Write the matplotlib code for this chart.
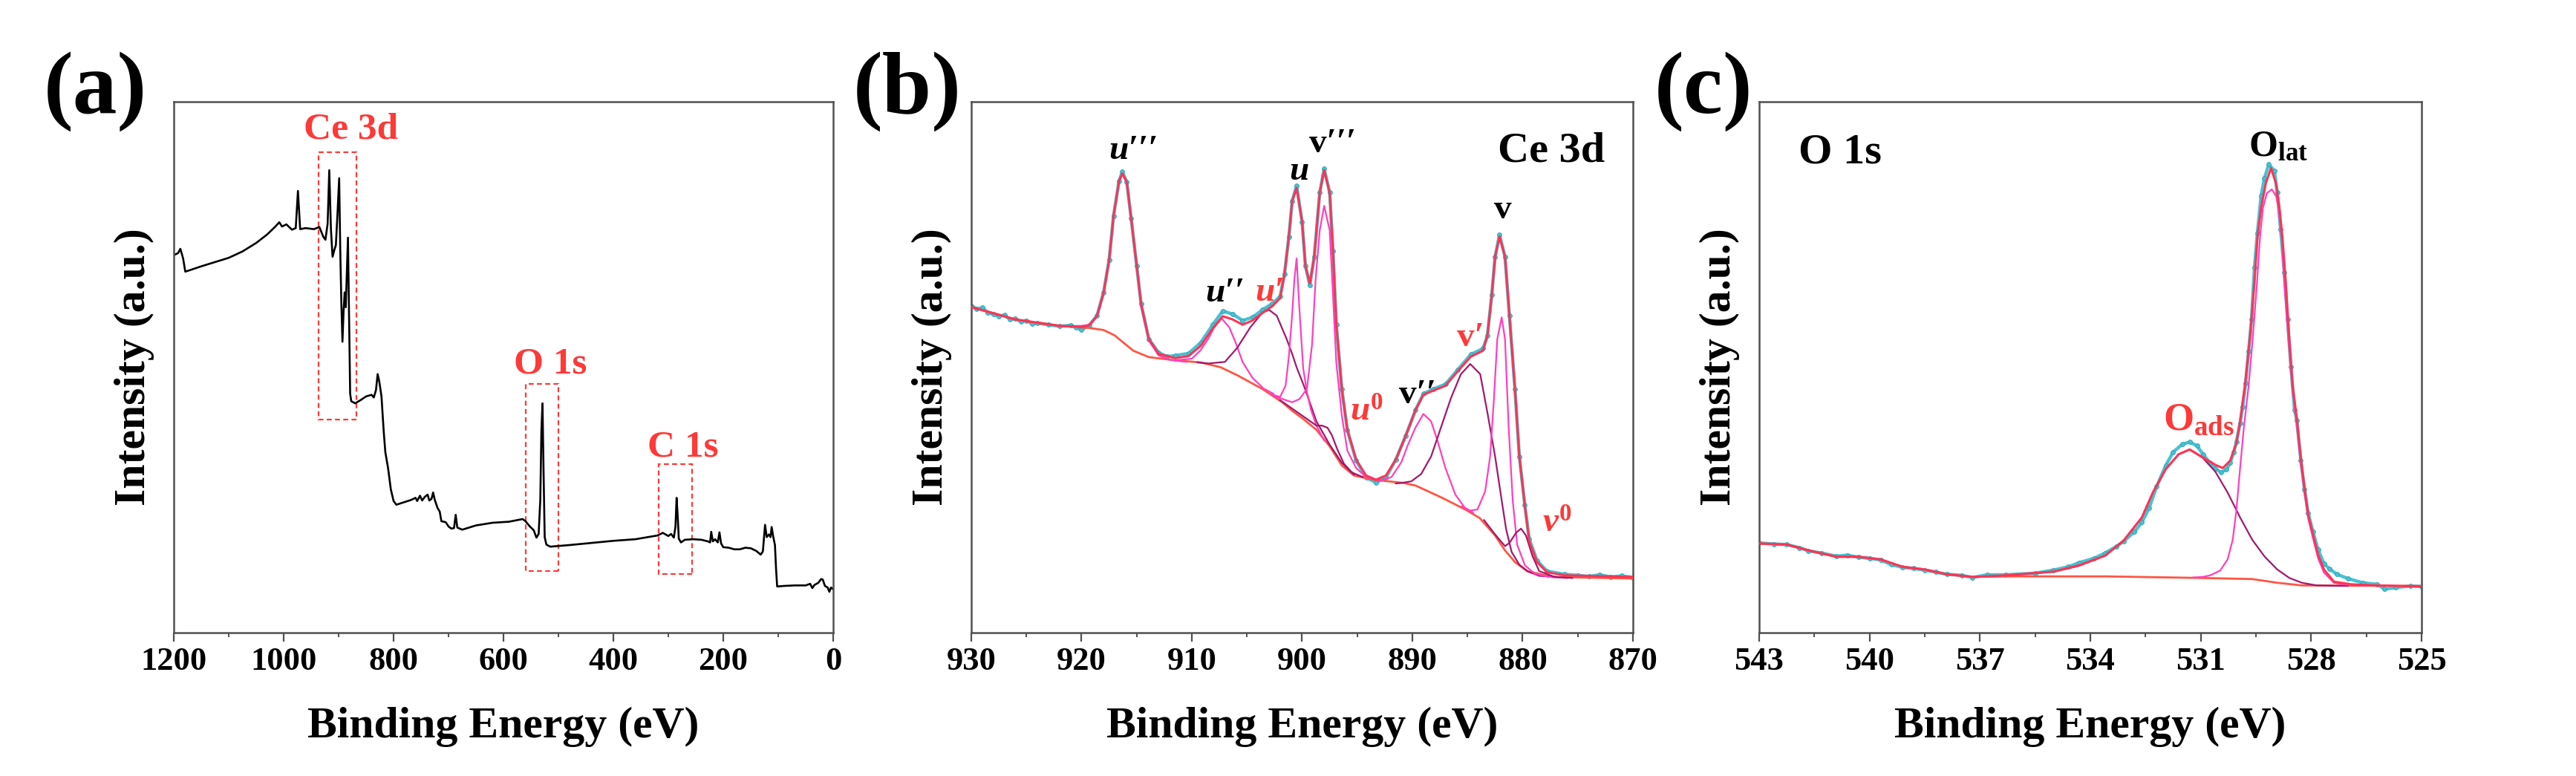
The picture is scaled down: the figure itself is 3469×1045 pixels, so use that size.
import matplotlib
matplotlib.use('Agg')
import matplotlib.pyplot as plt
from matplotlib.patches import Rectangle
from matplotlib.ticker import MultipleLocator

plt.rcParams['font.family'] = ['Liberation Serif', 'DejaVu Serif']
plt.rcParams['font.weight'] = 'bold'
plt.rcParams['mathtext.fontset'] = 'custom'
plt.rcParams['mathtext.rm'] = 'Liberation Serif:bold'
plt.rcParams['mathtext.it'] = 'Liberation Serif:italic:bold'
plt.rcParams['mathtext.bf'] = 'Liberation Serif:bold'

# ---------------- (a) survey spectrum ----------------
survey_be = [1200, 1192, 1188, 1183, 1179, 1170, 1150, 1125, 1100, 1075, 1050, 1030, 1015, 1008,
             1003, 995, 985, 978, 974, 970, 960, 945, 935, 928, 924, 920, 917, 914, 911, 908,
             905, 902, 899, 897, 895, 893, 891, 889, 887, 885, 883, 881, 879, 877, 870, 860,
             850, 840, 836, 832, 829, 826, 822, 818, 815, 810, 805, 800, 795, 780, 768, 760,
             757, 752, 748, 743, 738, 735, 731, 728, 725, 720, 716, 713, 705, 700, 695, 690,
             687, 684, 675, 650, 620, 590, 565, 560, 552, 545, 540, 536, 533, 531, 529, 527,
             525, 522, 515, 480, 440, 400, 360, 320, 310, 300, 295, 290, 287, 285, 283, 281,
             277, 270, 255, 240, 228, 224, 222, 219, 215, 210, 207, 204, 200, 190, 180, 170,
             160, 150, 140, 132, 128, 124, 121, 117, 114, 112, 109, 106, 104, 102, 90, 70,
             50, 42, 38, 34, 27, 22, 19, 15, 10, 7, 4, 0]
survey_int = [71.1, 71.5, 72.3, 70.5, 68.0, 68.3, 69.0, 69.8, 70.6, 71.8, 73.4, 75.0, 76.5, 77.3,
              76.5, 76.9, 75.9, 76.2, 83.2, 76.0, 76.2, 76.0, 76.4, 74.6, 74.0, 77.0, 87.1, 76.0,
              70.8, 72.0, 73.0, 79.0, 85.6, 72.0, 62.0, 54.8, 60.5, 64.1, 61.3, 68.0, 74.4, 60.0,
              45.0, 43.6, 43.2, 43.8, 44.5, 44.8, 44.3, 45.7, 48.7, 47.3, 44.5, 38.0, 34.0, 31.0,
              27.0, 24.8, 24.1, 24.6, 25.0, 25.4, 24.8, 25.8, 24.9, 25.6, 26.0, 24.9, 25.2, 26.4,
              25.0, 23.5, 22.8, 21.0, 20.8, 20.0, 19.6, 19.7, 22.2, 19.8, 19.4, 20.2, 20.7, 20.9,
              21.4, 21.0, 20.0, 19.3, 17.9, 18.6, 25.0, 38.0, 43.2, 30.0, 18.0, 16.6, 16.2, 16.5,
              16.9, 17.3, 17.6, 18.3, 18.8, 18.2, 18.6, 17.9, 20.0, 25.4, 22.0, 17.7, 17.0, 17.5,
              17.6, 17.5, 17.2, 17.0, 19.0, 17.2, 17.6, 17.0, 18.9, 16.8, 16.1, 16.0, 15.7, 15.7,
              16.0, 15.9, 15.4, 14.7, 15.3, 20.3, 18.0, 18.5, 18.0, 19.9, 18.0, 16.5, 12.0, 8.7,
              8.8, 8.9, 8.9, 9.2, 8.4, 9.0, 9.4, 10.1, 10.0, 8.8, 8.5, 7.7, 8.5, 8.2]
survey_labels = ['Ce 3d', 'O 1s', 'C 1s']
survey_label_xy = [(877, 94.7), (514, 50.6), (274, 34.9)]
survey_boxes = [(867, 937, 40.1, 90.5), (500, 559, 11.6, 46.9), (257, 317, 11.0, 31.7)]

# ---------------- (b) Ce 3d ----------------
ce_raw_be = [930, 929.5, 929, 928.5, 928, 927.5, 927, 926.5, 926, 925.5, 925, 924.5, 924, 923,
             922, 921, 920.5, 920, 919.3, 918.6, 918.0, 917.5, 917.1, 916.6, 916.3, 915.9,
             915.5, 915.0, 914.6, 913.9, 913.0, 912.2, 911.5, 910.3, 909.2, 908.1, 907.2,
             906.3, 905.4, 904.5, 903.6, 902.7, 902.0, 901.6, 901.2, 900.9, 900.5, 900.0,
             899.7, 899.3, 898.9, 898.4, 898.0, 897.5, 897.2, 896.9, 896.4, 895.9, 895.1,
             894.2, 893.3, 892.4, 891.5, 890.6, 889.7, 889.0, 888.1, 887.0, 885.9, 884.7,
             883.6, 883.2, 882.8, 882.5, 882.1, 881.6, 881.2, 880.7, 880.3, 879.8, 879.4,
             878.7, 877.8, 876.2, 875, 874, 873, 872, 871, 870]
ce_raw_int = [61.6, 61.0, 61.2, 60.3, 60.0, 59.6, 59.8, 59.0, 59.1, 58.6, 58.8, 58.2, 58.3, 58.0,
              57.7, 57.9, 57.5, 57.0, 57.9, 59.7, 64.1, 70.2, 78.5, 85.1, 86.8, 84.9,
              78.0, 69.1, 61.9, 55.3, 52.7, 52.0, 52.2, 52.6, 54.6, 58.0, 60.6, 60.0, 58.8, 59.4,
              60.8, 62.0, 63.3, 67.5, 74.6, 81.3, 84.2, 77.4, 69.1, 65.4, 70.8, 82.9, 87.4, 82.9,
              71.9, 58.1, 45.9, 38.2, 32.4, 29.2, 28.3, 29.2, 32.6, 37.1, 42.0, 45.0, 45.9, 46.8,
              49.5, 52.4, 53.5, 55.9, 63.6, 70.8, 75.0, 70.8, 59.7, 45.9, 33.2, 24.0, 17.6, 13.6,
              11.6, 11.0, 10.8, 10.6, 10.9, 10.5, 10.7, 10.4]
ce_env_be = [930, 926, 922, 920, 919.3, 918.6, 918.0, 917.5, 917.1, 916.6, 916.3, 915.9, 915.5,
             915.0, 914.6, 913.9, 913.0, 911.5, 910.3, 909.2, 908.1, 907.2, 906.3, 905.4, 904.5,
             903.6, 902.7, 902.0, 901.6, 901.2, 900.9, 900.5, 900.0, 899.7, 899.3, 898.9, 898.4,
             898.0, 897.5, 897.2, 896.9, 896.4, 895.9, 895.1, 894.2, 893.3, 892.4, 891.5, 890.6,
             889.7, 889.0, 888.1, 887.0, 885.9, 884.7, 883.6, 883.2, 882.8, 882.5, 882.1, 881.6,
             881.2, 880.7, 880.3, 879.8, 879.4, 878.7, 877.8, 876.2, 870]
ce_env_int = [61.3, 59.0, 57.8, 57.6, 57.9, 59.7, 64.1, 70.2, 78.5, 85.1, 86.5, 84.9, 78.0,
              69.1, 61.9, 55.3, 52.5, 51.7, 52.1, 54.0, 57.3, 59.6, 59.0, 58.0, 58.8,
              60.2, 61.5, 63.0, 67.5, 74.6, 81.3, 83.8, 77.4, 69.1, 65.8, 70.8, 82.9,
              87.1, 82.9, 71.9, 58.1, 45.9, 38.2, 32.6, 29.6, 28.8, 29.6, 32.6, 37.1,
              42.0, 44.8, 45.6, 46.5, 49.2, 52.0, 53.1, 55.9, 63.6, 70.8, 74.6, 70.8,
              59.7, 45.9, 33.2, 23.8, 17.2, 13.3, 11.4, 10.8, 10.5]
ce_bg_be = [930, 928, 926, 924, 922, 920, 919.3, 918, 917, 916.6, 915.3, 913.9, 911.5, 909.2,
            907.4, 905.8, 903.6, 901.8, 900.9, 899.8, 898.7, 897.5, 896.4, 895.3, 893.5, 890.8,
            889.7, 887.4, 885.2, 883.9, 882.5, 881.6, 880.7, 879.6, 877.3, 870]
ce_bg_int = [61.3, 60.2, 59.0, 58.3, 57.8, 57.5, 57.4, 57.0, 56.0, 55.3, 53.1, 51.9, 51.3, 50.9,
             50.0, 48.4, 45.9, 43.4, 41.8, 40.1, 38.2, 35.1, 31.5, 29.6, 28.8, 28.2,
             27.7, 25.5, 23.2, 21.6, 18.3, 15.5, 13.3, 11.6, 10.5, 10.2]

# Ce 3d components: (binding energies, intensities)
u3_be = [922, 920, 919.3, 918.6, 918.0, 917.5, 917.1, 916.6, 916.3, 915.9, 915.5, 915.0, 914.6,
         913.9, 913.0, 912.0, 910.5]
u3_int = [57.7, 57.8, 58.0, 59.5, 63.8, 70.0, 78.3, 85.0, 86.4, 84.8, 77.8, 68.8, 61.5,
          55.0, 52.2, 51.4, 51.0]
u2_be = [911.5, 910.0, 909.2, 908.5, 908.0, 907.3, 906.6, 906.0, 905.4, 904.5, 903.5, 902.6]
u2_int = [51.3, 51.6, 53.2, 55.4, 57.4, 59.2, 57.5, 54.5, 51.0, 48.0, 46.0, 45.0]
u1_be = [909.5, 908.5, 907.0, 905.9, 904.7, 903.6, 903.0, 902.3, 901.4, 900.9, 900.5, 899.8,
         898.7, 897.5, 896.4, 895.3]
u1_int = [50.9, 50.7, 51.0, 53.6, 57.5, 60.3, 60.8, 59.7, 55.3, 52.5, 50.0, 46.3,
          39.8, 35.4, 32.0, 29.8]
u_be = [902.8, 902.0, 901.5, 901.2, 900.9, 900.7, 900.5, 900.24, 899.9, 899.56, 899.2, 898.7, 898.0]
u_int = [44.9, 44.4, 46.5, 52.0, 60.0, 66.5, 70.5, 60.8, 49.8, 45.3, 42.0, 39.0, 36.2]
u0_be = [902.0, 900.9, 899.8, 898.7, 898.2, 897.7, 897.3, 896.8, 896.2, 895.5, 894.5]
u0_int = [43.8, 42.2, 40.6, 39.0, 39.0, 38.6, 37.2, 34.5, 31.8, 30.2, 29.3]
v3_be = [902.5, 900.9, 900.24, 899.56, 899.1, 898.78, 898.4, 898.0, 897.5, 897.2, 896.9, 896.4,
         895.9, 895.1, 894.2, 893.3]
v3_int = [44.5, 43.4, 44.0, 45.9, 54.2, 66.4, 75.8, 80.4, 75.8, 63.6, 50.9, 40.9,
          34.3, 31.0, 29.3, 28.8]
v2_be = [893.1, 891.9, 891.0, 890.4, 889.7, 889.0, 888.3, 887.7, 887.0, 886.1, 885.2, 884.5]
v2_int = [28.5, 29.3, 32.1, 35.4, 38.7, 41.2, 39.8, 36.0, 31.0, 26.0, 23.4, 22.6]
v1_be = [891.5, 891.0, 890.1, 889.2, 888.3, 887.4, 886.5, 885.6, 884.75, 883.85, 883.2, 882.5,
         881.9, 881.5, 881.0, 880.3, 879.5, 878.5, 877.0]
v1_int = [28.1, 28.2, 28.5, 29.9, 33.2, 38.7, 44.2, 48.7, 50.6, 48.7, 41.5, 33.2,
          24.9, 19.5, 15.2, 12.8, 11.5, 10.7, 10.5]
v_be = [885.5, 884.75, 884.1, 883.4, 882.95, 882.6, 882.3, 881.9, 881.6, 881.27, 880.9, 880.5,
        879.8, 878.9, 877.6, 876.0]
v_int = [23.8, 23.0, 23.2, 26.6, 33.2, 44.2, 55.3, 59.4, 55.3, 38.7, 24.9, 16.6,
         12.7, 11.1, 10.5, 10.3]
v0_be = [883.5, 882.5, 881.6, 881.2, 880.6, 880.15, 879.7, 879.1, 878.5, 877.1, 875.5]
v0_int = [21.2, 18.5, 16.3, 16.9, 18.8, 19.6, 18.3, 14.4, 11.6, 10.5, 10.3]

ce_comp = [(u3_be, u3_int, 'pink'), (u2_be, u2_int, 'pink'), (u1_be, u1_int, 'dark'),
           (u_be, u_int, 'pink'), (u0_be, u0_int, 'dark'), (v3_be, v3_int, 'pink'),
           (v2_be, v2_int, 'pink'), (v1_be, v1_int, 'dark'), (v_be, v_int, 'pink'),
           (v0_be, v0_int, 'dark')]

ce_labels = ["u\u2032\u2032\u2032", "u\u2032\u2032", "u\u2032", "u", r"$u^{0}$",
             "v\u2032\u2032\u2032", "v\u2032\u2032", "v\u2032", "v", r"$v^{0}$"]
ce_label_xy = [(915.3, 90.7), (907.0, 63.9), (902.9, 64.1), (900.3, 86.8), (894.1, 41.5),
               (897.2, 92.0), (889.5, 44.8), (884.75, 55.5), (881.8, 79.6), (876.9, 20.5)]
ce_label_red = [False, False, True, False, True, False, False, True, False, True]
ce_label_italic = [True, True, True, True, False, False, False, False, False, False]

# ---------------- (c) O 1s ----------------
o_raw_be = [543, 542.6, 542.25, 541.9, 541.66, 541.3, 540.9, 540.6, 540.3, 540.0, 539.7, 539.4,
            539.1, 538.8, 538.5, 538.2, 537.9, 537.5, 537.2, 536.8, 536.3, 535.5, 535.0, 534.6,
            534.3, 533.9, 533.6, 533.3, 533.1, 532.8, 532.6, 532.4, 532.2, 531.95, 531.75,
            531.5, 531.3, 531.1, 530.94, 530.75, 530.6, 530.45, 530.3, 530.2, 530.1, 530.03,
            529.93, 529.86, 529.78, 529.7, 529.62, 529.54, 529.46, 529.36, 529.27, 529.15,
            529.0, 528.92, 528.83, 528.73, 528.64, 528.55, 528.45, 528.39, 528.28, 528.18,
            528.08, 527.95, 527.81, 527.65, 527.5, 527.3, 527.0, 526.6, 526.2, 526.0, 525.7,
            525.3, 525.0]
o_raw_int = [16.9, 16.7, 16.6, 16.0, 15.4, 15.0, 14.4, 14.6, 14.2, 14.0, 13.7, 12.8,
             12.3, 12.1, 11.8, 11.4, 11.0, 10.8, 10.4, 10.9, 10.9, 11.2, 11.8, 12.4,
             13.2, 14.0, 15.0, 16.2, 17.2, 19.0, 20.8, 23.5, 27.5, 31.5, 34.0,
             35.5, 35.9, 35.2, 33.6, 32.0, 30.9, 30.2, 30.7, 32.0, 34.0, 36.0,
             39.5, 42.5, 47.0, 53.0, 59.0, 68.8, 75.3, 82.3, 85.6, 88.2,
             87.0, 83.0, 76.0, 67.9, 59.0, 50.0, 42.0, 40.0, 32.5, 27.0,
             22.5, 19.0, 15.6, 13.0, 12.0, 11.0, 10.2, 9.4, 9.1, 8.2, 8.5,
             8.8, 8.7]
o_env_be = [543, 542.25, 541.66, 540.9, 540.3, 539.7, 539.1, 538.5, 537.9, 537.2, 536.3, 535.0,
            534.3, 533.6, 533.1, 532.6, 532.3, 531.95, 531.6, 531.3, 530.94, 530.6, 530.4,
            530.2, 530.03, 529.93, 529.86, 529.8, 529.65, 529.54, 529.46, 529.36, 529.23,
            529.09, 528.96, 528.86, 528.78, 528.69, 528.6, 528.5, 528.39, 528.28, 528.18,
            528.08, 527.95, 527.81, 527.65, 527.38, 526.9, 526.2, 525.0]
o_env_int = [16.8, 16.6, 15.5, 14.3, 14.3, 13.8, 12.4, 11.9, 11.0, 10.5, 10.8, 11.5,
             12.7, 14.5, 17.3, 21.7, 26.4, 30.8, 33.6, 34.5, 33.0, 31.6, 31.0,
             32.4, 35.7, 39.8, 43.5, 46.4, 56.5, 66.0, 74.4, 80.0, 84.7,
             87.5, 84.7, 80.0, 74.4, 66.0, 56.0, 46.4, 40.4, 32.9, 27.3,
             22.2, 18.5, 14.7, 11.9, 9.6, 9.1, 8.9, 8.7]
o_bg_be = [543, 542.25, 541.66, 540.9, 540.3, 539.7, 539.1, 538.5, 537.9, 537.2, 536.3, 535.0,
           533.6, 530.94, 529.6, 528.92, 528.25, 525.0]
o_bg_int = [16.8, 16.6, 15.5, 14.3, 14.3, 13.8, 12.4, 11.9, 11.0, 10.5, 10.6, 10.6,
            10.6, 10.3, 10.1, 9.4, 8.9, 8.8]
oads_be = [536.3, 534.97, 534.3, 533.6, 533.1, 532.6, 532.3, 531.95, 531.6, 531.3, 530.94, 530.6,
           530.27, 529.93, 529.6, 529.26, 528.92, 528.59, 528.25, 527.85, 527.0]
oads_int = [10.8, 11.5, 12.6, 14.5, 17.3, 21.7, 26.4, 30.8, 33.6, 34.5, 32.9, 30.3,
            26.4, 21.7, 17.5, 14.3, 11.9, 10.3, 9.4, 8.9, 8.8]
olat_be = [531.2, 530.94, 530.74, 530.47, 530.27, 530.13, 530.03, 529.93, 529.83, 529.7, 529.58,
           529.47, 529.39, 529.31, 529.2, 529.07, 528.95, 528.89, 528.8, 528.73, 528.62, 528.5,
           528.39, 528.28, 528.18, 528.08, 527.95, 527.81, 527.65, 527.38, 527.0, 526.5]
olat_int = [10.4, 10.5, 10.8, 11.7, 13.8, 17.5, 23.1, 31.0, 38.5, 46.4, 56.0,
            66.0, 74.4, 80.0, 82.8, 83.5, 82.2, 80.0, 74.4, 66.0, 55.5, 45.5,
            39.0, 31.8, 26.4, 21.5, 17.8, 14.0, 11.3, 9.4, 9.0, 8.9]

RED = '#ff3838'
CYAN = '#46c3d3'
ENV = '#ff3455'
BG = '#ff5545'
PINK = '#ff3fbf'
DARK = '#a3186c'
SPINE = '#505050'


def style_axes(ax, xlim, major, minor):
    ax.set_xlim(*xlim)
    ax.set_ylim(0, 100)
    ax.xaxis.set_major_locator(MultipleLocator(major))
    ax.xaxis.set_minor_locator(MultipleLocator(minor))
    ax.set_yticks([])
    for s in ax.spines.values():
        s.set_linewidth(1.8)
        s.set_color(SPINE)
    ax.tick_params(axis='x', which='major', direction='out', length=8.5, width=1.6,
                   color=SPINE, labelsize=32, pad=5)
    ax.tick_params(axis='x', which='minor', direction='out', length=4.5, width=1.4, color=SPINE)
    ax.set_xlabel('Binding Energy (eV)', fontsize=43, fontweight='bold')
    ax.set_ylabel('Intensity (a.u.)', fontsize=43, fontweight='bold')
    ax.xaxis.set_label_coords(0.5, -0.14)
    ax.xaxis.label.set_va('top')
    ax.yaxis.set_label_coords(-0.06, 0.5)
    ax.yaxis.label.set_va('center')


def plot_raw(ax, be, inten):
    ax.plot(be, inten, color=CYAN, lw=3.2, zorder=2)
    ax.plot(be, inten, ls='none', marker='o', ms=4.2, mfc=CYAN, mec='#2b9fae', mew=0.6, zorder=2)


fig = plt.figure(figsize=(34.69, 10.45), dpi=100)
bottom, height = 0.1847, 0.6842
ax_a = fig.add_axes([0.06745, bottom, 0.2560, height])
ax_b = fig.add_axes([0.37705, bottom, 0.25685, height])
ax_c = fig.add_axes([0.68290, bottom, 0.25713, height])

# (a)
ax_a.plot(survey_be, survey_int, color='black', lw=1.9)
for (x0, x1, y0, y1) in survey_boxes:
    ax_a.add_patch(Rectangle((x0, y0), x1 - x0, y1 - y0, fill=False, edgecolor=RED,
                             lw=1.6, ls=(0, (3, 2))))
for txt, (x, y) in zip(survey_labels, survey_label_xy):
    ax_a.text(x, y, txt, color=RED, fontsize=37, fontweight='bold', ha='center', va='center')
style_axes(ax_a, (1200, 0), 200, 100)

# (b)
ax_b.plot(ce_bg_be, ce_bg_int, color=BG, lw=2.0, zorder=3)
plot_raw(ax_b, ce_raw_be, ce_raw_int)
for be, inten, kind in ce_comp:
    ax_b.plot(be, inten, color=PINK if kind == 'pink' else DARK, lw=1.6, zorder=3)
ax_b.plot(ce_env_be, ce_env_int, color=ENV, lw=2.2, zorder=4)
for txt, (x, y), red, it in zip(ce_labels, ce_label_xy, ce_label_red, ce_label_italic):
    ax_b.text(x, y, txt, color=RED if red else 'black', fontsize=34, fontweight='bold',
              fontstyle='italic' if it else 'normal', ha='center', va='center', zorder=5)
ax_b.text(877.4, 90.7, 'Ce 3d', fontsize=42, fontweight='bold', ha='center', va='center')
style_axes(ax_b, (930, 870), 10, 5)

# (c)
ax_c.plot(o_bg_be, o_bg_int, color=BG, lw=2.0, zorder=3)
plot_raw(ax_c, o_raw_be, o_raw_int)
ax_c.plot(oads_be, oads_int, color=DARK, lw=1.6, zorder=3)
ax_c.plot(olat_be, olat_int, color=PINK, lw=1.6, zorder=3)
ax_c.plot(o_env_be, o_env_int, color=ENV, lw=2.2, zorder=4)
ax_c.text(540.8, 90.4, 'O 1s', fontsize=42, fontweight='bold', ha='center', va='center')
ax_c.text(528.9, 91.5, r'$\mathrm{O}_{\mathrm{lat}}$', fontsize=36, ha='center', va='center')
ax_c.text(531.05, 40.0, r'$\mathrm{O}_{\mathrm{ads}}$', fontsize=38, color=RED,
          ha='center', va='center')
style_axes(ax_c, (543, 525), 3, 1.5)

for txt, x in zip(['(a)', '(b)', '(c)'], [0.0369, 0.3523, 0.6613]):
    fig.text(x, 0.8823, txt, fontsize=86, fontweight='bold', ha='center', va='center')

fig.savefig('out.png', dpi=100, facecolor='white')
